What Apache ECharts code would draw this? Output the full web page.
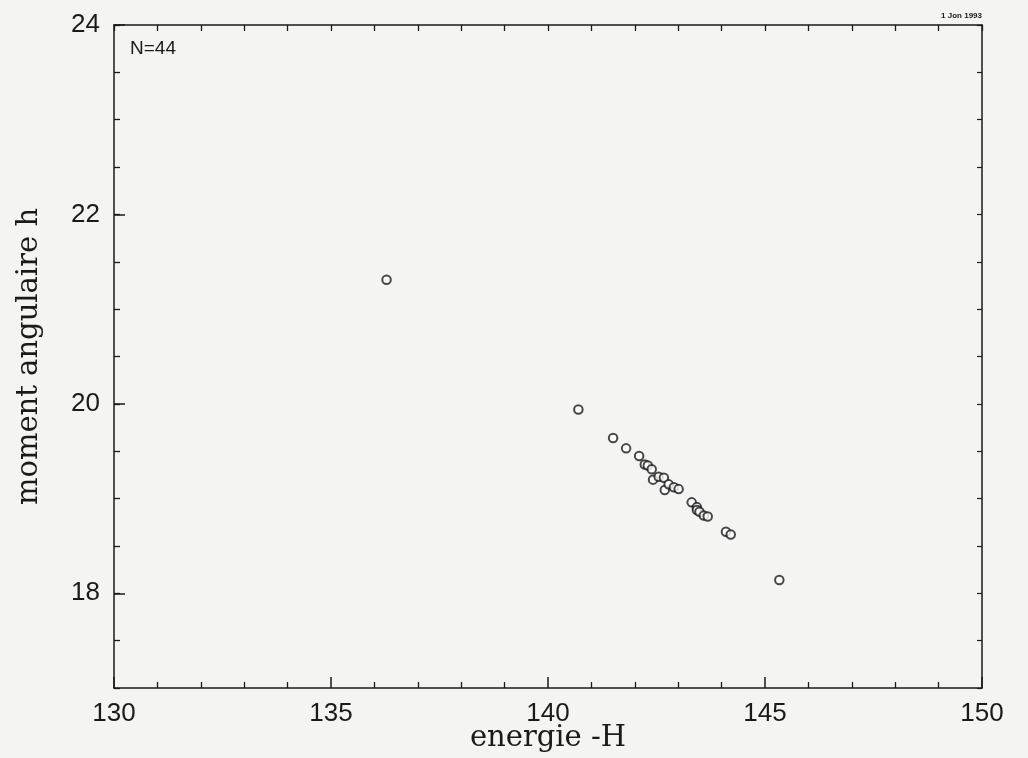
<!DOCTYPE html>
<html>
<head>
<meta charset="utf-8">
<script src="https://cdn.jsdelivr.net/npm/echarts@6/dist/echarts.min.js"></script>
<style>
  html, body { margin: 0; padding: 0; background: #f4f4f2; }
  #main { width: 1028px; height: 758px; }
</style>
</head>
<body>
<div id="main"></div>
<script>
// energie -H (x) and moment angulaire h (y)
var energie = [
  136.28, 140.70, 141.50, 141.80, 142.10, 142.23, 142.30, 142.39,
  142.42, 142.55, 142.67, 142.69, 142.78, 142.90, 143.01, 143.31,
  143.43, 143.43, 143.49, 143.59, 143.68, 144.10, 144.21, 145.33
];
var moment = [
  21.31, 19.94, 19.64, 19.53, 19.45, 19.36, 19.35, 19.31,
  19.20, 19.23, 19.22, 19.09, 19.15, 19.12, 19.10, 18.96,
  18.91, 18.88, 18.86, 18.82, 18.81, 18.65, 18.62, 18.14
];
var yLabels = [18, 20, 22, 24];
var nTexte = "N=44";
var dateTexte = "1 Jon 1993";

var points = energie.map(function (x, i) { return [x, moment[i]]; });

var ink = "#1a1a1a";
var sans = "Liberation Sans, Arial, sans-serif";
var serif = "DejaVu Serif, serif";

var option = {
  backgroundColor: "#f4f4f2",
  animation: false,
  grid: { left: 114, right: 46, top: 25, bottom: 70, outerBoundsMode: "none" },
  xAxis: [
    {
      type: "value", min: 130, max: 150, interval: 5,
      name: "energie -H", nameLocation: "middle", nameGap: 36, nameMoveOverlap: false,
      nameTextStyle: { fontFamily: serif, fontSize: 29, color: ink },
      axisLine: { lineStyle: { color: ink, width: 1.5 } },
      axisTick: { inside: true, length: 11, lineStyle: { color: ink, width: 1.5 } },
      minorTick: { show: true, splitNumber: 5, length: 6, lineStyle: { color: ink, width: 1.3 } },
      axisLabel: { fontFamily: sans, fontSize: 26, color: ink, margin: 13,
                   showMinLabel: true, showMaxLabel: true },
      splitLine: { show: false }
    },
    {
      type: "value", min: 130, max: 150, interval: 1, position: "top",
      axisLine: { show: true, lineStyle: { color: ink, width: 1.5 } },
      axisTick: { inside: true, length: 6, lineStyle: { color: ink, width: 1.3 } },
      axisLabel: { show: false },
      splitLine: { show: false }
    }
  ],
  yAxis: [
    {
      type: "value", min: 17, max: 24, position: "left",
      name: "moment angulaire h", nameLocation: "middle", nameGap: 70, nameMoveOverlap: false,
      nameTextStyle: { fontFamily: serif, fontSize: 29, color: ink },
      axisLine: { lineStyle: { color: ink, width: 1.5 } },
      axisTick: { inside: true, length: 11, customValues: yLabels,
                  lineStyle: { color: ink, width: 1.5 } },
      axisLabel: { customValues: yLabels, fontFamily: sans, fontSize: 26, color: ink, margin: 14 },
      splitLine: { show: false }
    },
    {
      type: "value", min: 17, max: 24, interval: 0.5, position: "left",
      axisLine: { show: false },
      axisTick: { inside: true, length: 6, lineStyle: { color: ink, width: 1.3 } },
      axisLabel: { show: false },
      splitLine: { show: false }
    },
    {
      type: "value", min: 17, max: 24, interval: 0.5, position: "right",
      axisLine: { show: true, lineStyle: { color: ink, width: 1.5 } },
      axisTick: { inside: true, length: 5, lineStyle: { color: ink, width: 1.2 } },
      axisLabel: { show: false },
      splitLine: { show: false }
    }
  ],
  graphic: [
    { type: "text", left: 130, top: 39,
      style: { text: nTexte, fontFamily: sans, fontSize: 19, fill: ink } },
    { type: "text", right: 46, top: 12,
      style: { text: dateTexte, fontFamily: sans, fontSize: 8, fontWeight: "bold", fill: ink } }
  ],
  series: [
    {
      type: "scatter",
      xAxisIndex: 0, yAxisIndex: 0,
      data: points,
      symbol: "emptyCircle",
      symbolSize: 8.5,
      itemStyle: { color: ink, borderColor: ink, borderWidth: 1.6 }
    }
  ]
};

var chartDom = document.getElementById("main");
var myChart = echarts.init(chartDom);
option && myChart.setOption(option);
</script>
</body>
</html>
